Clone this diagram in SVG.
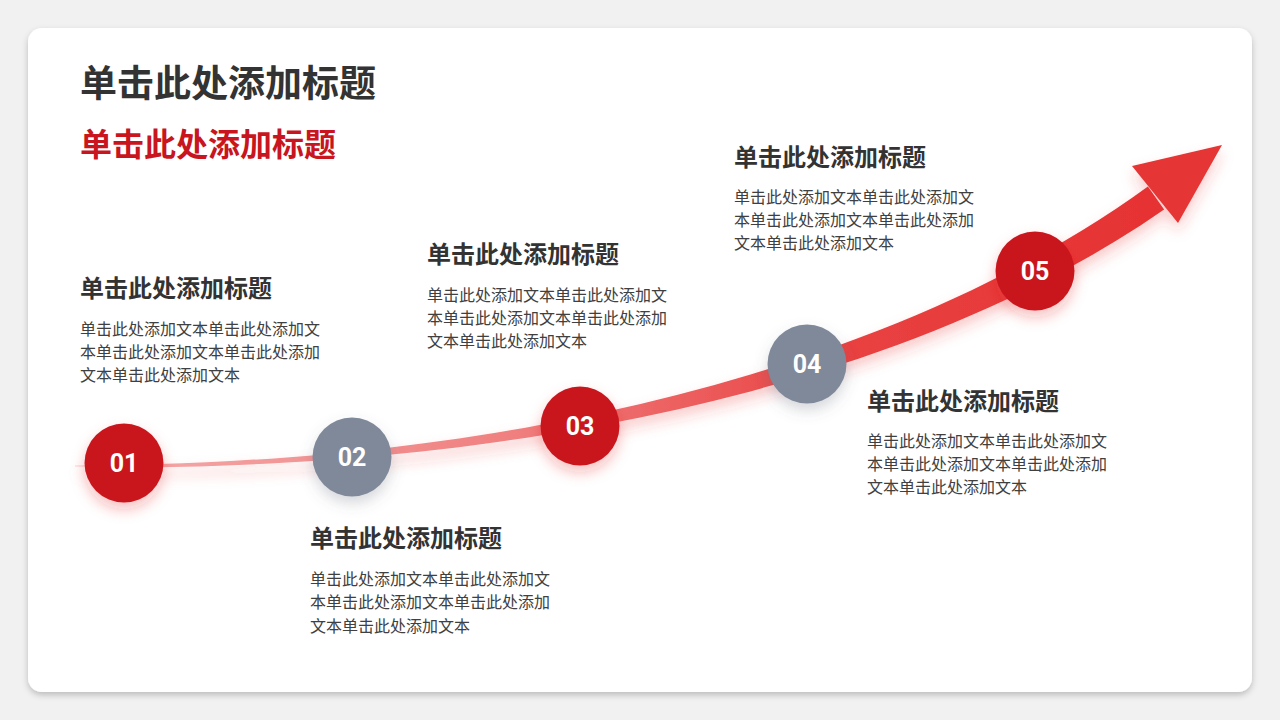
<svg xmlns="http://www.w3.org/2000/svg" width="1280" height="720" viewBox="0 0 1280 720">
  <defs>
    <style>
      .title{font-family:"Noto Sans CJK SC","Noto Sans",sans-serif;font-weight:700;}
      .h{font-family:"Noto Sans CJK SC","Noto Sans",sans-serif;font-weight:700;font-size:24px;fill:#333333;}
      .b{font-family:"Noto Sans CJK SC","Noto Sans",sans-serif;font-size:16px;fill:#404040;}
      .num{font-family:Roboto,"Liberation Sans",sans-serif;font-weight:700;font-size:25px;fill:#ffffff;text-anchor:middle;}
      .red{fill:#c9151e;}
      .grey{fill:#7f899a;}
    </style>
    <linearGradient id="shaftGrad" gradientUnits="userSpaceOnUse" x1="75" y1="0" x2="1160" y2="0">
      <stop offset="0" stop-color="#f7b7b7" stop-opacity="0.3"/>
      <stop offset="0.06" stop-color="#f4a6a6"/>
      <stop offset="0.4" stop-color="#f08080"/>
      <stop offset="0.7" stop-color="#e94242"/>
      <stop offset="1" stop-color="#e63232"/>
    </linearGradient>
    <filter id="cardShadow" x="-5%" y="-5%" width="110%" height="112%">
      <feDropShadow dx="0" dy="3" stdDeviation="3" flood-color="#000000" flood-opacity="0.22"/>
    </filter>
    <filter id="glowRed" x="-20%" y="-50%" width="140%" height="200%">
      <feDropShadow dx="0" dy="8" stdDeviation="7" flood-color="#e83030" flood-opacity="0.25"/>
    </filter>
    <filter id="circRed" x="-50%" y="-50%" width="200%" height="220%">
      <feDropShadow dx="0" dy="7" stdDeviation="7" flood-color="#e02020" flood-opacity="0.28"/>
    </filter>
    <filter id="circGrey" x="-50%" y="-50%" width="200%" height="220%">
      <feDropShadow dx="0" dy="7" stdDeviation="7" flood-color="#5a6272" flood-opacity="0.25"/>
    </filter>
  </defs>

  <rect x="0" y="0" width="1280" height="720" fill="#f1f1f1"/>
  <rect id="card" x="28" y="28" width="1224" height="664" rx="14" fill="#ffffff" filter="url(#cardShadow)"/>

  <g id="titles">
    <text class="title" x="80" y="97" font-size="37" fill="#333333">单击此处添加标题</text>
    <text class="title" x="80" y="156" font-size="32" fill="#c9151e">单击此处添加标题</text>
  </g>

  <g id="connectors" filter="url(#glowRed)">
    <path d="M75,465 C500,466.5 895.8,369.8 1147.9,186.6 L1164.1,209.4 C904.2,390.2 500,473.5 75,467 Z" fill="url(#shaftGrad)"/>
    <polygon points="1132,166 1222,145 1178,223" fill="#e63434"/>
  </g>

  <g id="node-01">
    <circle class="red" cx="124" cy="463" r="39.5" filter="url(#circRed)"/>
    <text class="num" x="124" y="472">01</text>
  </g>
  <g id="node-02">
    <circle class="grey" cx="352" cy="457" r="39.5" filter="url(#circGrey)"/>
    <text class="num" x="352" y="466">02</text>
  </g>
  <g id="node-03">
    <circle class="red" cx="580" cy="426" r="39.5" filter="url(#circRed)"/>
    <text class="num" x="580" y="435">03</text>
  </g>
  <g id="node-04">
    <circle class="grey" cx="807" cy="364" r="39.5" filter="url(#circGrey)"/>
    <text class="num" x="807" y="373">04</text>
  </g>
  <g id="node-05">
    <circle class="red" cx="1035" cy="271" r="39.5" filter="url(#circRed)"/>
    <text class="num" x="1035" y="280">05</text>
  </g>

  <g id="text-01">
    <text class="h" x="80" y="297">单击此处添加标题</text>
    <text class="b" x="80" y="335">单击此处添加文本单击此处添加文</text>
    <text class="b" x="80" y="358">本单击此处添加文本单击此处添加</text>
    <text class="b" x="80" y="381">文本单击此处添加文本</text>
  </g>
  <g id="text-02">
    <text class="h" x="310" y="547">单击此处添加标题</text>
    <text class="b" x="310" y="585">单击此处添加文本单击此处添加文</text>
    <text class="b" x="310" y="608">本单击此处添加文本单击此处添加</text>
    <text class="b" x="310" y="632">文本单击此处添加文本</text>
  </g>
  <g id="text-03">
    <text class="h" x="427" y="263">单击此处添加标题</text>
    <text class="b" x="427" y="301">单击此处添加文本单击此处添加文</text>
    <text class="b" x="427" y="324">本单击此处添加文本单击此处添加</text>
    <text class="b" x="427" y="347">文本单击此处添加文本</text>
  </g>
  <g id="text-04">
    <text class="h" x="867" y="410">单击此处添加标题</text>
    <text class="b" x="867" y="447">单击此处添加文本单击此处添加文</text>
    <text class="b" x="867" y="470">本单击此处添加文本单击此处添加</text>
    <text class="b" x="867" y="493">文本单击此处添加文本</text>
  </g>
  <g id="text-05">
    <text class="h" x="734" y="166">单击此处添加标题</text>
    <text class="b" x="734" y="203">单击此处添加文本单击此处添加文</text>
    <text class="b" x="734" y="226">本单击此处添加文本单击此处添加</text>
    <text class="b" x="734" y="249">文本单击此处添加文本</text>
  </g>
</svg>
